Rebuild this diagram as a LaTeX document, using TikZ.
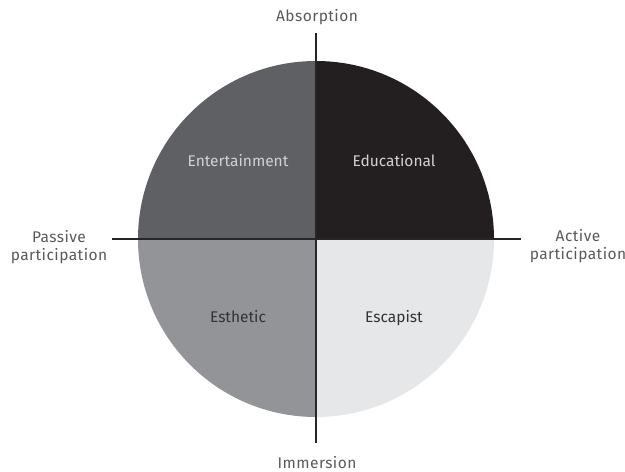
\documentclass[tikz,border=0pt]{standalone}
\usepackage{fontspec}
\setmainfont{Fira Sans}
\newfontfamily\axisfont{Fira Sans}[LetterSpace=3]
\usetikzlibrary{positioning}
\definecolor{entgray}{HTML}{5E6064}
\definecolor{edublack}{HTML}{231F20}
\definecolor{estgray}{HTML}{939497}
\definecolor{escgray}{HTML}{E6E7E8}
\definecolor{labgray}{HTML}{58595B}
\newcommand{\quadr}[3]{\fill[#1] (c) -- ++(#2:178pt) arc[start angle=#2, end angle=#3, radius=178pt] -- cycle;}
\tikzset{axislab/.style={text=labgray, font=\axisfont\fontsize{15.5}{18}\selectfont, align=center, inner sep=0pt},
         quadlab/.style={font=\fontsize{15.5}{18}\selectfont, text height=11pt, text depth=3pt, inner sep=0pt},
         axis/.style={line width=1.6pt, draw=black!85}}

\begin{document}
\begin{tikzpicture}[x=1pt,y=1pt]
					\useasboundingbox (0,0) rectangle (625,472);
					\coordinate (c) at (316,233);

					\quadr{edublack}{0}{90}
					\quadr{entgray}{90}{180}
					\quadr{estgray}{180}{270}
					\quadr{escgray}{270}{360}

					% axes
					\coordinate (top) at (316,439);
					\coordinate (bot) at (316,29);
					\coordinate (lft) at (112,233);
					\coordinate (rgt) at (521,233);
					\draw[axis] (top) -- (bot);
					\draw[axis] (lft) -- (rgt);

					\node[axislab, anchor=base] (absorp) at (317,450) {Absorption};
					\node[axislab, anchor=base] (immers) at (317,3) {Immersion};
					\node[axislab] (passive) at (59,225) {Passive\\participation};
					\node[axislab] (active) at (578,226) {Active\\participation};

					\node[quadlab, text=black!18] (entert) at (238,309) {Entertainment};
					\node[quadlab, text=black!18] (educ) at (394,309) {Educational};
					\node[quadlab, text=black!80] (esthet) at (238,153) {Esthetic};
					\node[quadlab, text=black!80] (escap) at (394,153) {Escapist};

				\end{tikzpicture}
\end{document}
